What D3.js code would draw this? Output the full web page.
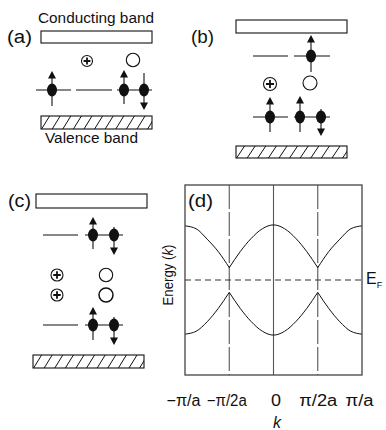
<!DOCTYPE html>
<html>
<head>
<meta charset="utf-8">
<script src="https://cdn.jsdelivr.net/npm/d3@7"></script>
<style>
  html, body { margin: 0; padding: 0; background: #fff; }
  svg { display: block; font-family: "Liberation Sans", Arial, Helvetica, sans-serif; }
</style>
</head>
<body>
<svg id="fig" width="386" height="430"></svg>
<script>
// ---- Panel (d): band dispersion, energy relative to E_F (units of half frame height) ----
const kTickValues = [-1, -0.5, 0, 0.5, 1];
const kTickLabels = ["\u2212\u03c0/a", "\u2212\u03c0/2a", "0", "\u03c0/2a", "\u03c0/a"];
const kSample   = [-1, -0.875, -0.75, -0.625, -0.5, -0.375, -0.25, -0.125, 0,
                   0.125, 0.25, 0.375, 0.5, 0.625, 0.75, 0.875, 1];
const upperBand = [0.57, 0.54, 0.43, 0.30, 0.13, 0.30, 0.44, 0.54, 0.58,
                   0.54, 0.44, 0.30, 0.13, 0.30, 0.43, 0.54, 0.57];
const lowerBand = [-0.57, -0.54, -0.44, -0.30, -0.13, -0.30, -0.44, -0.54, -0.58,
                   -0.54, -0.44, -0.30, -0.13, -0.30, -0.44, -0.54, -0.57];
const zoneLines = [-0.5, 0, 0.5];
const fermiEnergy = 0;

const svg = d3.select("#fig");
const INK = "#111";

// ---------- helpers for the level schematics ----------
function label(g, txt, x, y, size, len) {
  const t = g.append("text").attr("x", x).attr("y", y)
    .attr("font-size", size).attr("fill", INK).text(txt);
  if (len) t.attr("textLength", len).attr("lengthAdjust", "spacingAndGlyphs");
  return t;
}
function band(g, x, y, w, h, hatched) {
  if (hatched) {
    const id = "clip" + Math.round(x) + "_" + Math.round(y);
    svg.append("defs").append("clipPath").attr("id", id)
      .append("rect").attr("x", x).attr("y", y).attr("width", w).attr("height", h);
    const hg = g.append("g").attr("clip-path", `url(#${id})`);
    for (let x0 = x - 10; x0 < x + w + 10; x0 += 10.6) {
      hg.append("line").attr("x1", x0).attr("y1", y + h).attr("x2", x0 + 8).attr("y2", y)
        .attr("stroke", INK).attr("stroke-width", 1);
    }
  }
  g.append("rect").attr("x", x).attr("y", y).attr("width", w).attr("height", h)
    .attr("fill", "none").attr("stroke", INK).attr("stroke-width", 1.1);
}
function level(g, x1, x2, y) {
  g.append("line").attr("x1", x1).attr("x2", x2).attr("y1", y).attr("y2", y)
    .attr("stroke", INK).attr("stroke-width", 1.1);
}
function electron(g, cx, cy, spin, above, below) {
  const top = cy - above, bot = cy + below;
  g.append("line").attr("x1", cx).attr("x2", cx)
    .attr("y1", spin === "up" ? top + 5 : top)
    .attr("y2", spin === "down" ? bot - 5 : bot)
    .attr("stroke", INK).attr("stroke-width", 1.1);
  g.append("ellipse").attr("cx", cx).attr("cy", cy).attr("rx", 5).attr("ry", 6.5).attr("fill", INK);
  const pts = spin === "up"
    ? [[cx, top], [cx - 4, top + 7.5], [cx + 4, top + 7.5]]
    : [[cx, bot], [cx - 4, bot - 7.5], [cx + 4, bot - 7.5]];
  g.append("polygon").attr("points", pts.map(p => p.join(",")).join(" ")).attr("fill", INK);
}
function hole(g, cx, cy, r) {
  g.append("circle").attr("cx", cx).attr("cy", cy).attr("r", r)
    .attr("fill", "#fff").attr("stroke", INK).attr("stroke-width", 1.1);
  const a = r * 0.62;
  g.append("path").attr("d", `M${cx - a},${cy}H${cx + a}M${cx},${cy - a}V${cy + a}`)
    .attr("stroke", INK).attr("stroke-width", 1.8);
}
function vacancy(g, cx, cy, r, sw) {
  g.append("circle").attr("cx", cx).attr("cy", cy).attr("r", r)
    .attr("fill", "#fff").attr("stroke", INK).attr("stroke-width", sw || 1.1);
}

// ---------- (a) ----------
const ga = svg.append("g");
label(ga, "Conducting band", 38, 23, 14, 116);
label(ga, "(a)", 7, 43, 18, 25);
band(ga, 41, 31, 111, 12, false);
hole(ga, 87, 61, 5.5);
vacancy(ga, 133, 60, 6.7);
level(ga, 36, 71, 90);
level(ga, 76, 112, 90);
level(ga, 117, 152, 90);
electron(ga, 52, 90, "up", 19, 16);
electron(ga, 124, 90, "up", 20, 14);
electron(ga, 144, 90, "down", 17, 20);
band(ga, 41, 116, 111, 13, true);
label(ga, "Valence band", 45, 143, 14, 93);

// ---------- (b) ----------
const gb = svg.append("g");
label(gb, "(b)", 191, 43, 18, 23);
band(gb, 236, 20, 111, 13, false);
level(gb, 253, 288, 56);
level(gb, 294, 330, 56);
electron(gb, 311, 56, "up", 21, 16);
hole(gb, 270, 84, 6.5);
vacancy(gb, 310, 83, 7);
level(gb, 253, 288, 117);
level(gb, 294, 330, 117);
electron(gb, 270, 117, "up", 20, 15);
electron(gb, 300, 117, "up", 21, 15);
electron(gb, 321, 117, "down", 8, 19);
band(gb, 236, 146, 111, 12, true);

// ---------- (c) ----------
const gc = svg.append("g");
label(gc, "(c)", 8, 207, 18, 23);
band(gc, 36, 194, 111, 14, false);
level(gc, 43, 78, 235);
level(gc, 85, 123, 235);
electron(gc, 93, 235, "up", 18, 14);
electron(gc, 114, 235, "down", 8, 20);
hole(gc, 57, 275, 6);
hole(gc, 57, 295, 6);
vacancy(gc, 106, 275, 6.7);
vacancy(gc, 106, 295, 7, 1.5);
level(gc, 43, 78, 325);
level(gc, 85, 123, 325);
electron(gc, 93, 325, "up", 18, 15);
electron(gc, 114, 325, "down", 8, 20);
band(gc, 33, 355, 111, 13, true);

// ---------- (d) dispersion ----------
const frame = { left: 185, right: 362, top: 185, bottom: 375 };
const x = d3.scaleLinear().domain([-1, 1]).range([frame.left, frame.right]);
const y = d3.scaleLinear().domain([-1, 1]).range([frame.bottom, frame.top]);
const gd = svg.append("g");

// zone lines
gd.selectAll("line.zone").data(zoneLines).join("line")
  .attr("class", "zone")
  .attr("x1", d => x(d)).attr("x2", d => x(d))
  .attr("y1", frame.top).attr("y2", frame.bottom)
  .attr("stroke", "#555").attr("stroke-width", 1.1)
  .attr("stroke-dasharray", d => d === 0 ? null : "24,3")
  .attr("stroke-dashoffset", 0);

// Fermi level
gd.append("line")
  .attr("x1", frame.left).attr("x2", frame.right)
  .attr("y1", y(fermiEnergy)).attr("y2", y(fermiEnergy))
  .attr("stroke", "#333").attr("stroke-width", 1.1).attr("stroke-dasharray", "6,4");

// bands, split at the zone-boundary cusps
const line = d3.line().x(d => x(d[0])).y(d => y(d[1])).curve(d3.curveMonotoneX);
function segments(vals) {
  const pts = kSample.map((k, i) => [k, vals[i]]);
  const segs = [];
  let cur = [];
  pts.forEach(p => {
    cur.push(p);
    if (Math.abs(Math.abs(p[0]) - 0.5) < 1e-9) { segs.push(cur); cur = [p]; }
  });
  if (cur.length > 1) segs.push(cur);
  return segs;
}
[upperBand, lowerBand].forEach(b => {
  gd.append("g").selectAll("path").data(segments(b)).join("path")
    .attr("d", line).attr("fill", "none").attr("stroke", INK).attr("stroke-width", 1);
});

// frame
gd.append("rect")
  .attr("x", frame.left).attr("y", frame.top)
  .attr("width", frame.right - frame.left).attr("height", frame.bottom - frame.top)
  .attr("fill", "none").attr("stroke", "#444").attr("stroke-width", 1.3);

label(gd, "(d)", 188, 207, 18, 25);

// k axis labels
const tickLen = [34, 40, 10, 38, 28];
const tickShift = [-2, -3, 2, 0, -3];
const axis = d3.axisBottom(x).tickValues(kTickValues)
  .tickFormat((d, i) => kTickLabels[i]).tickSize(0).tickPadding(20);
const ax = gd.append("g").attr("transform", `translate(0,${frame.bottom})`).call(axis);
ax.select(".domain").remove();
ax.selectAll("text")
  .attr("font-size", 16).attr("fill", INK)
  .attr("font-family", "Liberation Sans, Arial, sans-serif")
  .attr("dx", (d, i) => tickShift[i])
  .attr("textLength", (d, i) => tickLen[i]).attr("lengthAdjust", "spacingAndGlyphs");

gd.append("text").attr("x", 277).attr("y", 428).attr("text-anchor", "middle")
  .attr("font-size", 16).attr("font-style", "italic").attr("fill", INK).text("k");

// energy axis title
const et = gd.append("text").attr("transform", "translate(173,275) rotate(-90)")
  .attr("text-anchor", "middle").attr("font-size", 14).attr("fill", INK)
  .attr("textLength", 61).attr("lengthAdjust", "spacingAndGlyphs");
et.append("tspan").text("Energy (");
et.append("tspan").attr("font-style", "italic").text("k");
et.append("tspan").text(")");

// E_F label
const ef = gd.append("text").attr("x", 366).attr("y", 284).attr("font-size", 16).attr("fill", INK);
ef.append("tspan").text("E");
ef.append("tspan").attr("font-size", 9).attr("dy", 4).text("F");
</script>
</body>
</html>
